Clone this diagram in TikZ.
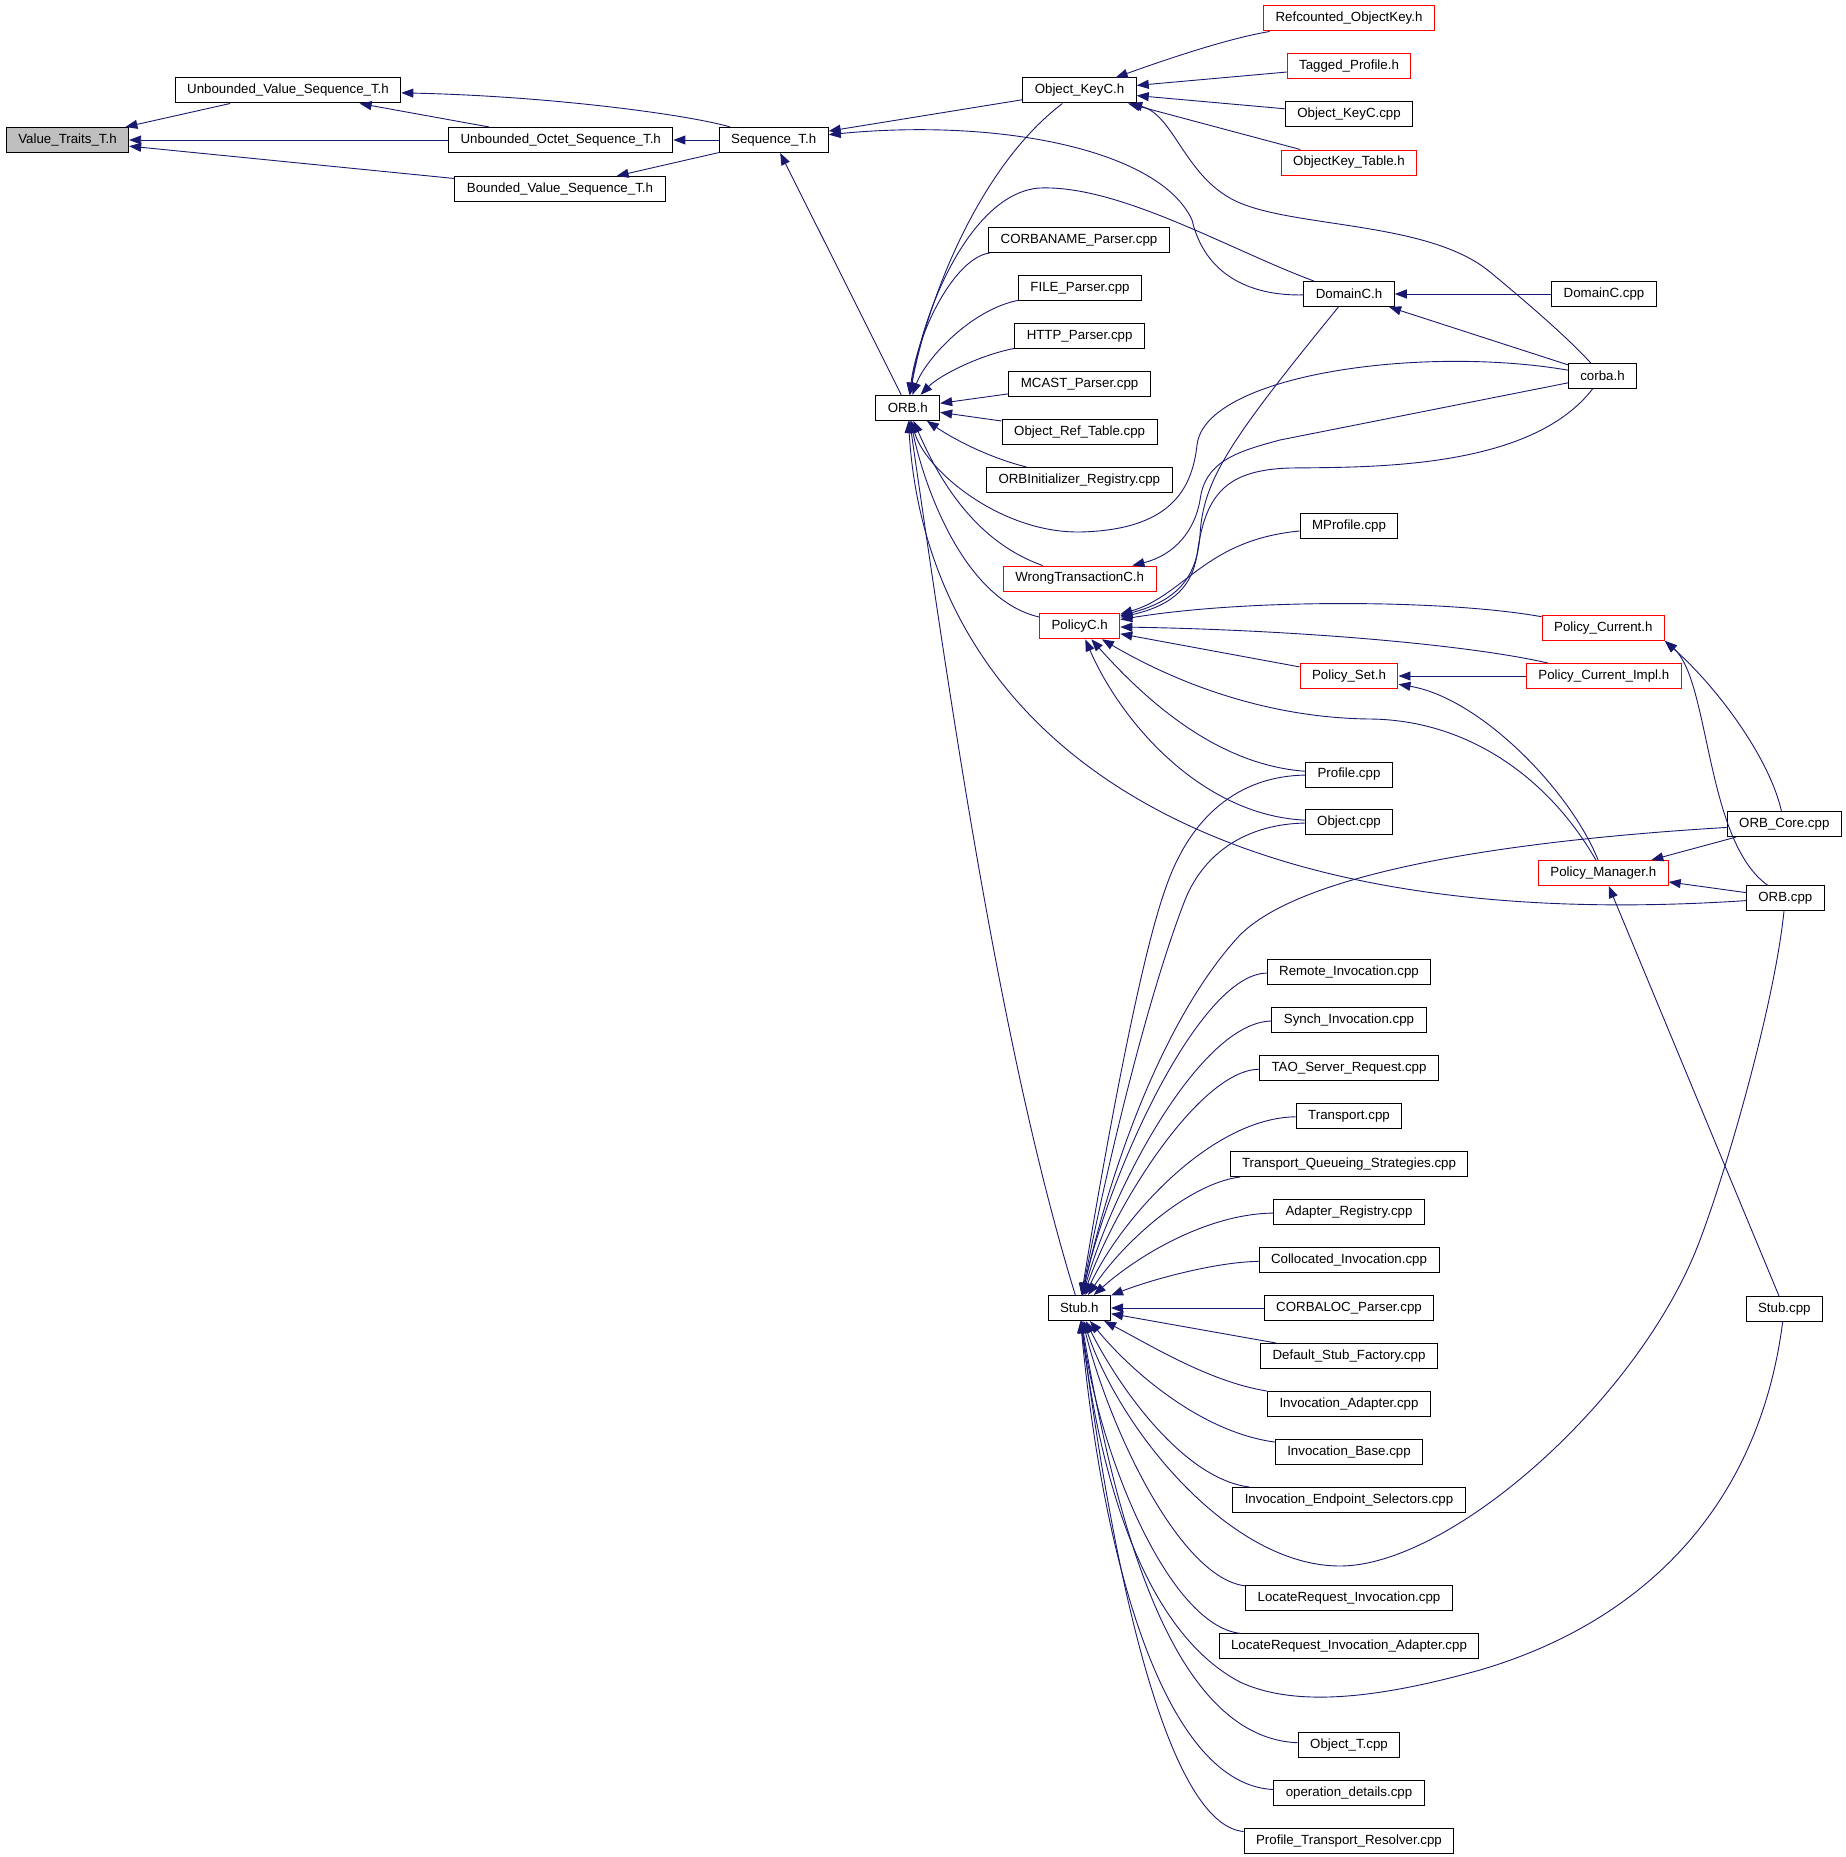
\documentclass[tikz,border=0pt]{standalone}
\usepackage{fontspec}
\setmainfont{Liberation Sans}
\usetikzlibrary{arrows.meta}
\definecolor{edgeblue}{HTML}{191970}
\definecolor{boxred}{HTML}{FF0000}
\definecolor{boxgray}{HTML}{BFBFBF}
\tikzset{
  hfile/.style={draw=black,line width=1pt,fill=white,inner xsep=12pt,inner ysep=0pt,
    minimum height=25pt,font=\fontsize{13.3}{16}\selectfont},
  redfile/.style={hfile,draw=boxred},
  mainfile/.style={hfile,fill=boxgray},
  incl/.style={draw=edgeblue,line width=0.9pt,{Triangle[length=12pt,width=9pt]}-}
}
\begin{document}
\begin{tikzpicture}[x=1pt,y=-1pt]
\fill[white] (0,0) rectangle (1845,1857);
\useasboundingbox (0,0) rectangle (1845,1857);
%
\node [mainfile] (vt)  at (67.5,140)   {Value\_Traits\_T.h};
\node [hfile] (uvs)    at (288,90.5)   {Unbounded\_Value\_Sequence\_T.h};
\node [hfile] (uos)    at (560.7,140)  {Unbounded\_Octet\_Sequence\_T.h};
\node [hfile] (bvs)    at (560,189)    {Bounded\_Value\_Sequence\_T.h};
\node [hfile] (seq)    at (773.7,140)  {Sequence\_T.h};
\node [hfile] (okh)    at (1079.5,90.5) {Object\_KeyC.h};
\node [hfile] (orbh)   at (907.7,407.8) {ORB.h};
\node [hfile] (stubh)  at (1079.3,1308) {Stub.h};
%
\node [hfile] (cbn)    at (1079,240)    {CORBANAME\_Parser.cpp};
\node [hfile] (file)   at (1080,288)    {FILE\_Parser.cpp};
\node [hfile] (http)   at (1079.6,336)  {HTTP\_Parser.cpp};
\node [hfile] (mcast)  at (1079.6,384)  {MCAST\_Parser.cpp};
\node [hfile] (ort)    at (1079.6,432)  {Object\_Ref\_Table.cpp};
\node [hfile] (oir)    at (1079.3,480)  {ORBInitializer\_Registry.cpp};
\node [redfile] (wtc)  at (1079.7,578.5) {WrongTransactionC.h};
\node [redfile] (pc)   at (1079.7,626.3) {PolicyC.h};
%
\node [redfile] (rok)  at (1349,18.5)   {Refcounted\_ObjectKey.h};
\node [redfile] (tp)   at (1349,66.5)   {Tagged\_Profile.h};
\node [hfile] (okc)    at (1349,114.5)  {Object\_KeyC.cpp};
\node [redfile] (okt)  at (1349,162.5)  {ObjectKey\_Table.h};
\node [hfile] (domh)   at (1349,294)    {DomainC.h};
\node [hfile] (mprof)  at (1349,526.3)  {MProfile.cpp};
\node [redfile] (pset) at (1349,676)    {Policy\_Set.h};
\node [hfile] (prof)   at (1349,774.5)  {Profile.cpp};
\node [hfile] (obj)    at (1349,822.3)  {Object.cpp};
%
\node [hfile] (remote)  at (1349,972)   {Remote\_Invocation.cpp};
\node [hfile] (synch)   at (1349,1020)  {Synch\_Invocation.cpp};
\node [hfile] (tao)     at (1349,1068)  {TAO\_Server\_Request.cpp};
\node [hfile] (transp)  at (1349,1116)  {Transport.cpp};
\node [hfile] (tqs)     at (1349,1164)  {Transport\_Queueing\_Strategies.cpp};
\node [hfile] (adreg)   at (1349,1212)  {Adapter\_Registry.cpp};
\node [hfile] (colloc)  at (1349,1260)  {Collocated\_Invocation.cpp};
\node [hfile] (cbl)     at (1349,1308)  {CORBALOC\_Parser.cpp};
\node [hfile] (defstub) at (1349,1356)  {Default\_Stub\_Factory.cpp};
\node [hfile] (invad)   at (1349,1404)  {Invocation\_Adapter.cpp};
\node [hfile] (invbase) at (1349,1452)  {Invocation\_Base.cpp};
\node [hfile] (invend)  at (1349,1500)  {Invocation\_Endpoint\_Selectors.cpp};
\node [hfile] (lri)     at (1349,1598.3) {LocateRequest\_Invocation.cpp};
\node [hfile] (lria)    at (1349,1646.3) {LocateRequest\_Invocation\_Adapter.cpp};
\node [hfile] (objt)    at (1349,1744.8) {Object\_T.cpp};
\node [hfile] (opdet)   at (1349,1792.8) {operation\_details.cpp};
\node [hfile] (ptr)     at (1349,1840.8) {Profile\_Transport\_Resolver.cpp};
%
\node [hfile] (domc)    at (1604,294)    {DomainC.cpp};
\node [hfile] (corba)   at (1602.5,376)  {corba.h};
\node [redfile] (pcur)  at (1603.3,628)  {Policy\_Current.h};
\node [redfile] (pci)   at (1603.8,676)  {Policy\_Current\_Impl.h};
\node [redfile] (pman)  at (1603.3,873)  {Policy\_Manager.h};
\node [hfile] (orbcore) at (1784.3,824)  {ORB\_Core.cpp};
\node [hfile] (orbcpp)  at (1785.3,898)  {ORB.cpp};
\node [hfile] (stubcpp) at (1784.3,1308.8) {Stub.cpp};
%
\draw[incl] (vt) -- (uvs);
\draw[incl] (vt) -- (uos);
\draw[incl] (vt) -- (bvs);
\draw[incl] (uvs) -- (uos);
\draw[incl] (uvs) .. controls (550,96) and (690,115) .. (seq);
\draw[incl] (uos) -- (seq);
\draw[incl] (bvs) -- (seq);
%
\draw[incl] (seq) -- (okh);
\draw[incl] (seq) .. controls (1000,118) and (1160,150) .. (1192,220) .. controls (1205,275) and (1250,296) .. (domh);
\draw[incl] (seq) -- (orbh);
%
\draw[incl] (okh) .. controls (1170,58) and (1230,38) .. (rok);
\draw[incl] (okh) -- (tp);
\draw[incl] (okh) -- (okc);
\draw[incl] (okh) -- (okt);
\draw[incl] (okh) .. controls (1175,115) and (1185,180) .. (1240,203) .. controls (1300,228) and (1430,222) .. (1490,272) .. controls (1530,305) and (1570,340) .. (corba);
%
\draw[incl] (orbh) .. controls (925,310) and (975,170) .. (okh);
\draw[incl] (orbh) .. controls (925,300) and (975,192) .. (1040,188) .. controls (1120,185) and (1230,250) .. (domh);
\draw[incl] (orbh) .. controls (918,330) and (955,258) .. (cbn);
\draw[incl] (orbh) .. controls (925,360) and (970,310) .. (file);
\draw[incl] (orbh) .. controls (940,375) and (980,355) .. (http);
\draw[incl] (orbh) -- (mcast);
\draw[incl] (orbh) -- (ort);
\draw[incl] (orbh) .. controls (955,440) and (990,458) .. (oir);
\draw[incl] (orbh) .. controls (925,470) and (1000,533) .. (1080,532) .. controls (1170,530) and (1192,490) .. (1197,445) .. controls (1205,375) and (1420,345) .. (corba);
\draw[incl] (orbh) .. controls (935,470) and (970,540) .. (wtc);
\draw[incl] (orbh) .. controls (925,490) and (965,600) .. (pc);
\draw[incl] (orbh) .. controls (925,700) and (1150,940) .. (orbcpp);
\draw[incl] (orbh) .. controls (950,700) and (1000,1050) .. (stubh);
%
\draw[incl] (domh) -- (domc);
\draw[incl] (domh) -- (corba);
\draw[incl] (wtc) .. controls (1175,555) and (1195,530) .. (1200,500) .. controls (1205,462) and (1235,452) .. (1280,440) -- (corba);
%
\draw[incl] (pc) .. controls (1180,600) and (1197,575) .. (1200,535) .. controls (1203,480) and (1230,440) .. (domh);
\draw[incl] (pc) .. controls (1175,605) and (1192,585) .. (1197,555) .. controls (1205,495) and (1225,470) .. (1290,468) .. controls (1370,467) and (1530,470) .. (corba);
\draw[incl] (pc) .. controls (1185,595) and (1205,540) .. (mprof);
\draw[incl] (pc) .. controls (1250,598) and (1450,600) .. (pcur);
\draw[incl] (pc) .. controls (1300,630) and (1470,645) .. (pci);
\draw[incl] (pc) -- (pset);
\draw[incl] (pc) .. controls (1180,685) and (1270,718) .. (1370,719) .. controls (1470,720) and (1550,780) .. (pman);
\draw[incl] (pc) .. controls (1150,705) and (1220,765) .. (prof);
\draw[incl] (pc) .. controls (1120,720) and (1200,815) .. (obj);
%
\draw[incl] (pset) -- (pci);
\draw[incl] (pset) .. controls (1480,698) and (1570,790) .. (pman);
\draw[incl] (pcur.south east) .. controls (1720,690) and (1770,760) .. (orbcore);
\draw[incl] (pcur.south east) .. controls (1710,680) and (1705,840) .. (orbcpp);
\draw[incl] (pman) -- (orbcore);
\draw[incl] (pman) -- (orbcpp);
\draw[incl] (pman) -- (stubcpp);
%
\draw[incl] (stubh) .. controls (1105,1150) and (1140,960) .. (1165,890) .. controls (1190,815) and (1240,776) .. (prof);
\draw[incl] (stubh) .. controls (1110,1150) and (1150,990) .. (1185,900) .. controls (1205,850) and (1250,824) .. (obj);
\draw[incl] (stubh) .. controls (1115,1150) and (1170,1010) .. (1240,935) .. controls (1310,865) and (1550,838) .. (orbcore);
\draw[incl] (stubh) .. controls (1110,1170) and (1200,974) .. (remote);
\draw[incl] (stubh) .. controls (1112,1190) and (1200,1022) .. (synch);
\draw[incl] (stubh) .. controls (1115,1205) and (1200,1070) .. (tao);
\draw[incl] (stubh) .. controls (1120,1220) and (1210,1118) .. (transp);
\draw[incl] (stubh) .. controls (1125,1240) and (1190,1183) .. (tqs);
\draw[incl] (stubh) .. controls (1135,1258) and (1205,1214) .. (adreg);
\draw[incl] (stubh) .. controls (1150,1280) and (1215,1262) .. (colloc);
\draw[incl] (stubh) -- (cbl);
\draw[incl] (stubh) -- (defstub);
\draw[incl] (stubh) .. controls (1150,1345) and (1210,1382) .. (invad);
\draw[incl] (stubh) .. controls (1130,1370) and (1200,1432) .. (invbase);
\draw[incl] (stubh) .. controls (1115,1380) and (1180,1478) .. (invend);
\draw[incl] (stubh) .. controls (1120,1430) and (1230,1566) .. (1340,1566) .. controls (1450,1566) and (1640,1400) .. (1700,1240) .. controls (1730,1160) and (1775,1000) .. (orbcpp);
\draw[incl] (stubh) .. controls (1110,1430) and (1180,1578) .. (lri);
\draw[incl] (stubh) .. controls (1100,1460) and (1170,1625) .. (lria);
\draw[incl] (stubh) .. controls (1105,1520) and (1160,1640) .. (1240,1682) .. controls (1300,1710) and (1390,1695) .. (1480,1670) .. controls (1650,1620) and (1760,1500) .. (stubcpp);
\draw[incl] (stubh) .. controls (1120,1550) and (1180,1738) .. (objt);
\draw[incl] (stubh) .. controls (1105,1580) and (1170,1785) .. (opdet);
\draw[incl] (stubh) .. controls (1115,1590) and (1170,1825) .. (ptr);
\end{tikzpicture}
\end{document}
